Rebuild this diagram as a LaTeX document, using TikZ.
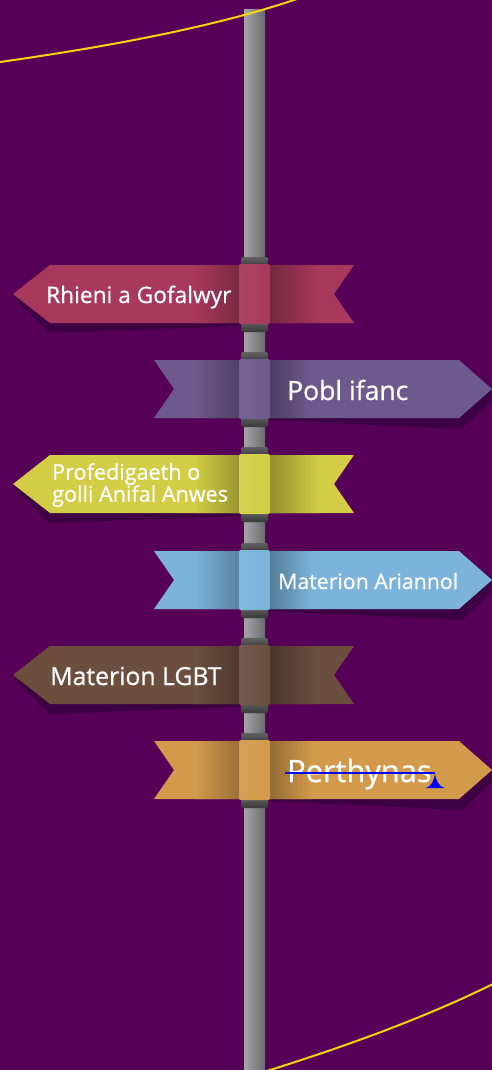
\documentclass[tikz,border=0pt]{standalone}
\usepackage{fontspec}
\setmainfont{Open Sans}
\newfontfamily\signfont{Open Sans}[FakeBold=0.7]

\definecolor{bgpurple}{HTML}{560057}
\definecolor{signshade}{HTML}{3D0042}
\definecolor{curveyellow}{HTML}{F5D50C}
\definecolor{polelight}{HTML}{A4A5A9}
\definecolor{poledark}{HTML}{6A6B6E}
\definecolor{rhienicol}{HTML}{A8385C}
\definecolor{poblcol}{HTML}{6C5A8C}
\definecolor{profcol}{HTML}{D2CD44}
\definecolor{ariancol}{HTML}{7BB3DB}
\definecolor{lgbtcol}{HTML}{6C4E3F}
\definecolor{perthcol}{HTML}{D49A4C}

\tikzset{
  signtext/.style={text=white, inner sep=0pt},
  ringband/.style={top color=black!62, bottom color=black!78, rounded corners=2pt},
  curveline/.style={curveyellow, line width=2pt}
}

% sign pointing left, #1 = centre y, #2 = colour
\newcommand{\leftsign}[2]{
  \fill[signshade] (13,#1) -- (19,#1+9) -- (50,#1+39) -- (240,#1+32) -- (240,#1+29) -- (50,#1+29) -- cycle;
  \begin{scope}
    \clip (13,#1) -- (50,#1-29) -- (354,#1-29) -- (334,#1) -- (354,#1+29) -- (50,#1+29) -- cycle;
    \fill[#2] (0,#1-30) rectangle (360,#1+30);
    \shade[left color=#2, right color=#2!72!black] (195,#1-30) rectangle (240,#1+30);
    \shade[left color=#2!68!black, right color=#2] (268,#1-30) rectangle (318,#1+30);
  \end{scope}
}

% sign pointing right, #1 = centre y, #2 = colour
\newcommand{\rightsign}[2]{
  \fill[signshade] (268,#1+29) -- (268,#1+31) -- (462,#1+40) -- (500,#1+4) -- (492,#1) -- (459,#1+29) -- cycle;
  \begin{scope}
    \clip (154,#1-29) -- (459,#1-29) -- (492,#1) -- (459,#1+29) -- (154,#1+29) -- (174,#1) -- cycle;
    \fill[#2] (150,#1-30) rectangle (495,#1+30);
    \shade[left color=#2, right color=#2!72!black] (195,#1-30) rectangle (240,#1+30);
    \shade[left color=#2!68!black, right color=#2] (268,#1-30) rectangle (312,#1+30);
  \end{scope}
}

% collar round the pole
\newcommand{\collar}[2]{
  \shade[ringband] (241,#1-37) rectangle (268,#1-27);
  \shade[ringband] (241,#1+27) rectangle (268,#1+38);
  \shade[left color=#2!94!white, middle color=#2!88!black, right color=#2, rounded corners=2pt] (239,#1-30) rectangle (270,#1+30);
}

\begin{document}
\begin{tikzpicture}[x=1pt, y=-1pt]
  \useasboundingbox (0,0) rectangle (492,1070);
  \fill[bgpurple] (0,0) rectangle (492,1070);

  % pole
  \shade[left color=polelight, right color=poledark] (244,10) rectangle (265,1070);

  % curves
  \draw[curveline] (0,62) .. controls (120,45) and (220,25) .. (297,-1);
  \draw[curveline] (267,1071) .. controls (340,1048) and (420,1020) .. (493,984);

  % signs
  \leftsign{294}{rhienicol}
  \collar{294}{rhienicol}
  \rightsign{389}{poblcol}
  \collar{389}{poblcol}
  \leftsign{484}{profcol}
  \collar{484}{profcol}
  \rightsign{580}{ariancol}
  \collar{580}{ariancol}
  \leftsign{675}{lgbtcol}
  \collar{675}{lgbtcol}
  \rightsign{770}{perthcol}
  \collar{770}{perthcol}

  % labels
  \node[signtext, font=\signfont\fontsize{22.7}{26}\selectfont, anchor=base west] (rhieni) at (46,303) {Rhieni a Gofalwyr};
  \node[signtext, font=\signfont\fontsize{26.5}{30}\selectfont, anchor=base west] (pobl) at (287,400) {Pobl ifanc};
  \node[signtext, font=\signfont\fontsize{21.6}{22}\selectfont, align=left, anchor=west] (profed) at (52,485) {Profedigaeth o\\golli Anifal Anwes};
  \node[signtext, font=\signfont\fontsize{21.3}{24}\selectfont, anchor=base west] (arian) at (278,589) {Materion Ariannol};
  \node[signtext, font=\signfont\fontsize{24.8}{28}\selectfont, anchor=base west] (lgbt) at (50,685) {Materion LGBT};
  \node[signtext, font=\signfont\fontsize{30.8}{34}\selectfont, anchor=base west] (perth) at (287,782) {Perthynas};

  % blue mark over Perthynas
  \draw[blue, line width=2pt] (285,773) -- (435,773);
  \fill[blue] (426,788) .. controls (432,786) and (434,780) .. (435,774) .. controls (436,780) and (438,786) .. (445,788) -- cycle;
\end{tikzpicture}
\end{document}
